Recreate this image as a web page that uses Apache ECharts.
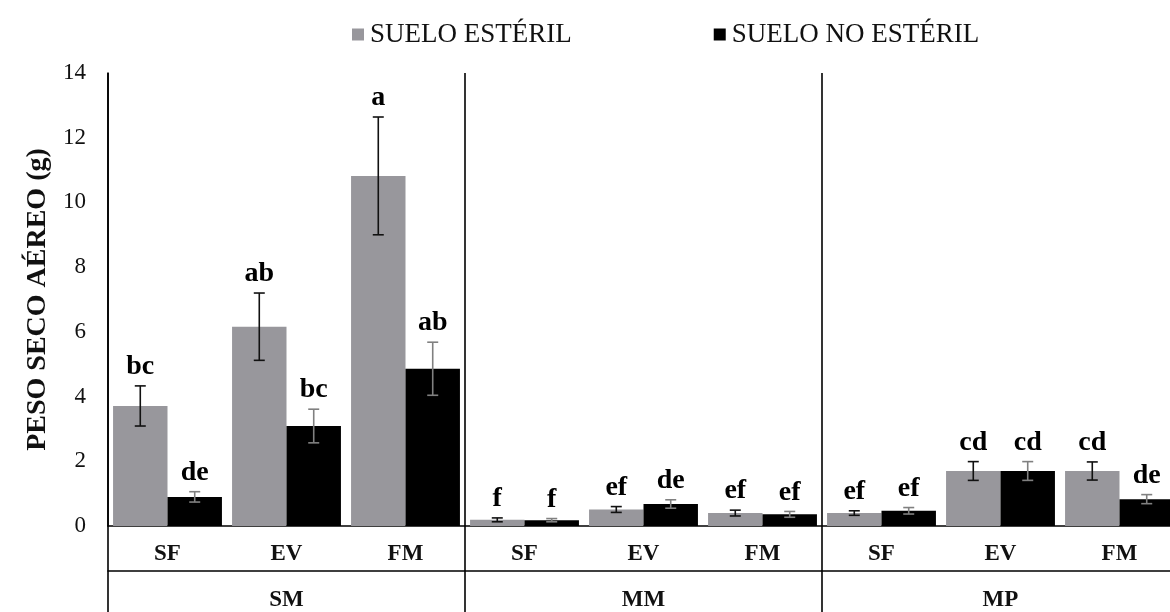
<!DOCTYPE html>
<html>
<head>
<meta charset="utf-8">
<script src="https://cdn.jsdelivr.net/npm/echarts@6/dist/echarts.min.js"></script>
<style>
  html, body { margin: 0; padding: 0; background: #fff; overflow: hidden; }
  /* the last group runs slightly past the right edge of the window */
  #chart { width: 1180px; height: 612px; }
</style>
</head>
<body>
<div id="chart"></div>
<script>
// Treatments within each source group
const categories = ['SF', 'EV', 'FM', 'SF', 'EV', 'FM', 'SF', 'EV', 'FM'];
const groups = ['SM', 'MM', 'MP'];
const groupStarts = [0, 3, 6];

// Aerial dry weight (g), sterile soil
const esteril = [3.71, 6.16, 10.82, 0.19, 0.51, 0.40, 0.40, 1.70, 1.70];
const esterilErr = [0.62, 1.04, 1.82, 0.06, 0.09, 0.09, 0.07, 0.29, 0.28];
const esterilLetters = ['bc', 'ab', 'a', 'f', 'ef', 'ef', 'ef', 'cd', 'cd'];

// Aerial dry weight (g), non-sterile soil
const noEsteril = [0.90, 3.09, 4.86, 0.18, 0.68, 0.36, 0.47, 1.70, 0.83];
const noEsterilErr = [0.16, 0.52, 0.82, 0.05, 0.13, 0.09, 0.10, 0.29, 0.14];
const noEsterilLetters = ['de', 'bc', 'ab', 'f', 'de', 'ef', 'ef', 'cd', 'de'];

const yTicks = { min: 0, max: 14, interval: 2 };

const SERIF = "'Liberation Serif', 'Times New Roman', serif";
const GRAY = '#98979c';
const BLACK = '#000000';
const CAT_GAP = 0.085;

// Error bar + significance letter for one soil type; side = -1 (left bar) or +1 (right bar)
function errorRenderer(side, errColor) {
  return function (params, api) {
    const idx = api.value(0);
    const val = api.value(1);
    const err = api.value(2);
    const letter = api.value(3);
    const band = api.size([1, 0])[0];
    const barW = band * (1 - CAT_GAP) / 2;
    const cx = api.coord([idx, 0])[0] + side * barW / 2;
    const yTop = api.coord([idx, val + err])[1];
    const yBot = api.coord([idx, val - err])[1];
    const cap = 5.5;
    const ls = { stroke: errColor, lineWidth: 1.6 };
    return {
      type: 'group',
      children: [
        { type: 'line', shape: { x1: cx, y1: yTop, x2: cx, y2: yBot }, style: ls },
        { type: 'line', shape: { x1: cx - cap, y1: yTop, x2: cx + cap, y2: yTop }, style: ls },
        { type: 'line', shape: { x1: cx - cap, y1: yBot, x2: cx + cap, y2: yBot }, style: ls },
        {
          type: 'text',
          style: {
            text: letter, x: cx, y: yTop - 5,
            align: 'center', verticalAlign: 'bottom',
            textAlign: 'center', textVerticalAlign: 'bottom',
            font: "bold 28px " + SERIF, fill: '#000'
          }
        }
      ]
    };
  };
}

const chart = echarts.init(document.getElementById('chart'), null, { renderer: 'canvas' });

chart.setOption({
  animation: false,
  backgroundColor: '#fff',
  legend: {
    left: 347, top: 16,
    itemWidth: 12, itemHeight: 12, itemGap: 142,
    icon: 'rect',
    textStyle: { fontFamily: SERIF, fontSize: 27, color: '#111', padding: [0, 0, 0, 1] },
    data: ['SUELO ESTÉRIL', 'SUELO NO ESTÉRIL']
  },
  grid: { left: 108, top: 73, right: 1, height: 454, containLabel: false },
  xAxis: [
    {
      type: 'category', data: categories, gridIndex: 0,
      axisLine: { lineStyle: { color: '#000', width: 1.6 } },
      axisTick: { show: false },
      axisLabel: { fontFamily: SERIF, fontWeight: 'bold', fontSize: 23, color: '#111', margin: 17 },
      splitLine: { show: false }
    },
    {
      type: 'category', data: groups, gridIndex: 0, position: 'bottom', offset: 45,
      axisLine: { lineStyle: { color: '#000', width: 1.6 } },
      axisTick: { show: false },
      axisLabel: { fontFamily: SERIF, fontWeight: 'bold', fontSize: 23, color: '#111', margin: 18 },
      splitLine: { show: false }
    }
  ],
  yAxis: {
    type: 'value', min: yTicks.min, max: yTicks.max, interval: yTicks.interval,
    name: 'PESO SECO AÉREO (g)', nameLocation: 'middle', nameGap: 55,
    nameTextStyle: { fontFamily: SERIF, fontWeight: 'bold', fontSize: 28, color: '#111' },
    axisLine: { show: true, lineStyle: { color: '#000', width: 1.6 } },
    axisTick: { show: false },
    splitLine: { show: false },
    axisLabel: { fontFamily: SERIF, fontSize: 23, color: '#111', margin: 22 }
  },
  series: [
    {
      name: 'SUELO ESTÉRIL', type: 'bar', data: esteril,
      itemStyle: { color: GRAY }, barGap: '0%', barCategoryGap: (CAT_GAP * 100) + '%'
    },
    {
      name: 'SUELO NO ESTÉRIL', type: 'bar', data: noEsteril,
      itemStyle: { color: BLACK }, barGap: '0%', barCategoryGap: (CAT_GAP * 100) + '%'
    },
    {
      type: 'custom', clip: false, z: 5,
      renderItem: errorRenderer(-1, '#111'),
      encode: { x: 0, y: 1 },
      data: esteril.map((v, i) => [i, v, esterilErr[i], esterilLetters[i]])
    },
    {
      type: 'custom', clip: false, z: 5,
      renderItem: errorRenderer(1, '#808080'),
      encode: { x: 0, y: 1 },
      data: noEsteril.map((v, i) => [i, v, noEsterilErr[i], noEsterilLetters[i]])
    },
    {
      // vertical separators between source groups, running down through the axis labels
      type: 'custom', clip: false, z: 6, silent: true,
      renderItem: function (params, api) {
        const idx = api.value(0);
        const band = api.size([1, 0])[0];
        const x = api.coord([idx, 0])[0] - band / 2;
        const y1 = api.coord([idx, yTicks.max])[1];
        return {
          type: 'line',
          shape: { x1: x, y1: y1, x2: x, y2: api.getHeight() },
          style: { stroke: '#000', lineWidth: 1.6 }
        };
      },
      encode: { x: 0, y: 1 },
      data: groupStarts.map(i => [i, 0])
    }
  ]
});
</script>
</body>
</html>
